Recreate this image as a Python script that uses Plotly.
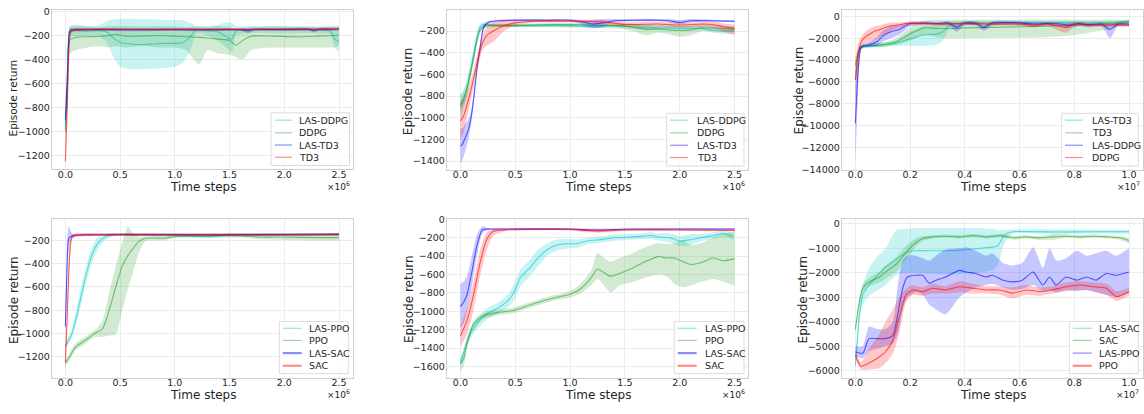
import plotly.graph_objects as go

W, H = 1144, 414

# ---------------- colours ----------------
C_CYAN, C_GREEN, C_BLUE, C_RED = (0, 200, 200), (44, 160, 44), (0, 0, 255), (255, 0, 0)

# ---------------- Panel 1 (x in 1e6) ----------------
p1_lasddpg_x = [0, 0.02, 0.04, 0.1, 0.2, 0.3, 0.38, 0.45, 0.5, 0.6, 0.7, 0.8, 0.9, 1.0, 1.08, 1.15, 1.2, 1.3, 1.4, 1.47, 1.52, 1.56, 1.7, 1.9, 2.1, 2.3, 2.42, 2.46, 2.5]
p1_lasddpg_y = [-950, -600, -165, -160, -165, -160, -170, -230, -255, -270, -275, -270, -265, -265, -255, -200, -150, -160, -170, -210, -230, -160, -150, -150, -150, -150, -160, -230, -250]
p1_lasddpg_lo = [-1050, -750, -210, -210, -200, -200, -260, -400, -460, -480, -480, -475, -470, -460, -420, -300, -180, -200, -250, -300, -340, -200, -180, -180, -180, -180, -190, -300, -340]
p1_lasddpg_hi = [-850, -450, -120, -110, -120, -115, -80, -65, -60, -60, -65, -65, -70, -70, -75, -100, -120, -120, -110, -90, -95, -120, -120, -125, -125, -125, -130, -150, -160]

p1_ddpg_x = [0, 0.02, 0.04, 0.1, 0.2, 0.3, 0.4, 0.46, 0.55, 0.7, 0.85, 1.0, 1.1, 1.22, 1.3, 1.4, 1.5, 1.56, 1.62, 1.7, 1.9, 2.1, 2.3, 2.45, 2.5]
p1_ddpg_y = [-1000, -600, -235, -215, -210, -208, -200, -190, -205, -205, -200, -205, -210, -215, -220, -230, -240, -280, -240, -205, -205, -210, -205, -200, -195]
p1_ddpg_lo = [-1050, -800, -350, -320, -300, -290, -300, -290, -300, -290, -300, -300, -320, -440, -320, -350, -360, -380, -400, -320, -300, -300, -300, -300, -290]
p1_ddpg_hi = [-950, -400, -130, -120, -125, -130, -120, -120, -120, -125, -120, -125, -130, -125, -130, -120, -130, -150, -140, -130, -120, -125, -130, -120, -120]

p1_lastd3_x = [0, 0.02, 0.04, 0.06, 0.1, 0.3, 0.6, 1.0, 1.3, 1.6, 1.67, 1.72, 2.0, 2.22, 2.27, 2.32, 2.5]
p1_lastd3_y = [-900, -500, -165, -152, -150, -150, -152, -150, -152, -150, -160, -150, -150, -148, -158, -148, -145]
p1_lastd3_lo = [-1000, -650, -190, -165, -162, -162, -164, -162, -164, -162, -178, -162, -162, -160, -172, -160, -157]
p1_lastd3_hi = [-800, -350, -140, -140, -138, -138, -140, -138, -140, -138, -142, -138, -138, -136, -144, -136, -133]

p1_td3_x = [0, 0.02, 0.05, 0.08, 0.2, 0.5, 1.0, 1.5, 2.0, 2.5]
p1_td3_y = [-1250, -700, -165, -155, -150, -148, -150, -150, -148, -145]
p1_td3_lo = [-1300, -800, -185, -168, -162, -160, -162, -162, -160, -157]
p1_td3_hi = [-1180, -600, -145, -142, -138, -136, -138, -138, -136, -133]

# ---------------- Panel 2 (x in 1e6) ----------------
p2_lasddpg_x = [0, 0.03, 0.06, 0.09, 0.12, 0.15, 0.18, 0.21, 0.25, 0.3, 0.5, 0.8, 1.0, 1.2, 1.4, 1.6, 1.8, 2.0, 2.2, 2.3, 2.4, 2.5]
p2_lasddpg_y = [-900, -830, -720, -580, -420, -260, -160, -140, -140, -145, -150, -150, -150, -155, -150, -165, -170, -175, -175, -195, -200, -200]
p2_lasddpg_lo = [-1000, -920, -800, -650, -480, -310, -190, -160, -155, -160, -165, -165, -165, -170, -165, -185, -190, -195, -195, -215, -225, -225]
p2_lasddpg_hi = [-780, -740, -640, -510, -360, -210, -130, -120, -125, -130, -135, -135, -135, -140, -135, -145, -150, -155, -155, -170, -175, -175]

p2_ddpg_x = [0, 0.03, 0.06, 0.09, 0.12, 0.15, 0.18, 0.21, 0.25, 0.3, 0.5, 0.8, 1.0, 1.2, 1.4, 1.55, 1.7, 1.8, 1.9, 2.0, 2.1, 2.2, 2.35, 2.5]
p2_ddpg_y = [-880, -820, -730, -600, -450, -290, -190, -160, -150, -150, -150, -140, -140, -145, -150, -160, -185, -180, -190, -195, -190, -170, -175, -180]
p2_ddpg_lo = [-950, -880, -790, -660, -500, -330, -215, -180, -165, -165, -165, -160, -165, -170, -175, -195, -240, -215, -230, -255, -240, -200, -200, -205]
p2_ddpg_hi = [-800, -760, -670, -540, -400, -250, -165, -140, -135, -135, -135, -125, -125, -125, -130, -130, -145, -150, -150, -150, -150, -140, -150, -155]

p2_lastd3_x = [0, 0.015, 0.05, 0.076, 0.1, 0.12, 0.15, 0.18, 0.21, 0.24, 0.27, 0.35, 0.5, 0.8, 1.0, 1.1, 1.2, 1.3, 1.4, 1.6, 1.8, 1.9, 2.0, 2.1, 2.3, 2.5]
p2_lastd3_y = [-1260, -1250, -1170, -1100, -980, -830, -560, -350, -170, -130, -115, -105, -100, -100, -100, -115, -135, -125, -105, -100, -100, -105, -120, -105, -105, -110]
p2_lastd3_lo = [-1420, -1400, -1290, -1190, -1040, -880, -600, -380, -195, -145, -125, -115, -110, -110, -110, -135, -175, -165, -120, -110, -110, -120, -140, -120, -115, -120]
p2_lastd3_hi = [-1100, -1100, -1050, -1010, -920, -780, -520, -320, -145, -115, -105, -95, -90, -90, -90, -95, -95, -90, -90, -90, -90, -90, -100, -90, -95, -100]

p2_td3_x = [0, 0.03, 0.06, 0.09, 0.12, 0.15, 0.18, 0.21, 0.25, 0.3, 0.4, 0.5, 0.7, 1.0, 1.3, 1.5, 1.8, 2.0, 2.2, 2.3, 2.4, 2.5]
p2_td3_y = [-1030, -980, -880, -770, -640, -500, -380, -290, -230, -200, -150, -125, -110, -110, -115, -140, -135, -145, -135, -140, -160, -175]
p2_td3_lo = [-1200, -1130, -1000, -860, -720, -570, -450, -360, -330, -300, -200, -150, -120, -120, -130, -160, -155, -165, -160, -170, -210, -240]
p2_td3_hi = [-850, -830, -760, -680, -560, -430, -310, -220, -150, -120, -100, -100, -100, -100, -100, -120, -115, -125, -115, -115, -130, -140]

# ---------------- Panel 3 (x in 1e7) ----------------
p3_lastd3_x = [0, 0.01, 0.02, 0.05, 0.1, 0.15, 0.2, 0.25, 0.3, 0.32, 0.35, 0.4, 0.5, 0.6, 0.7, 0.8, 0.9, 1.0]
p3_lastd3_y = [-5800, -3500, -2800, -2700, -2600, -2450, -2050, -1700, -1600, -1400, -700, -600, -600, -550, -550, -550, -550, -500]
p3_lastd3_lo = [-6200, -3900, -3000, -2850, -2800, -2700, -2700, -2700, -2600, -2200, -1000, -800, -800, -700, -700, -700, -700, -650]
p3_lastd3_hi = [-5400, -3100, -2600, -2550, -2400, -2200, -1400, -900, -800, -600, -450, -400, -400, -400, -400, -400, -400, -350]

p3_td3_x = [0, 0.01, 0.02, 0.05, 0.1, 0.15, 0.2, 0.25, 0.3, 0.35, 0.4, 0.5, 0.6, 0.7, 0.8, 0.9, 0.95, 1.0]
p3_td3_y = [-4500, -3300, -2800, -2700, -2600, -2300, -1600, -1050, -1100, -1100, -1050, -1000, -950, -900, -800, -700, -600, -450]
p3_td3_lo = [-4800, -3600, -3000, -2850, -2800, -2600, -2200, -1700, -1900, -2000, -2000, -1950, -1950, -1900, -1700, -1300, -1000, -600]
p3_td3_hi = [-4200, -3000, -2600, -2550, -2400, -2000, -1000, -400, -300, -300, -300, -300, -300, -300, -300, -300, -300, -300]

p3_lasddpg_x = [0, 0.01, 0.02, 0.03, 0.05, 0.08, 0.1, 0.13, 0.16, 0.2, 0.25, 0.3, 0.34, 0.37, 0.4, 0.44, 0.47, 0.5, 0.55, 0.6, 0.65, 0.7, 0.75, 0.78, 0.82, 0.85, 0.9, 0.93, 0.96, 1.0]
p3_lasddpg_y = [-9800, -5000, -2900, -2700, -2600, -2300, -1800, -1400, -1200, -650, -600, -650, -600, -1000, -600, -650, -1000, -600, -550, -600, -700, -650, -700, -800, -650, -800, -700, -1200, -700, -700]
p3_lasddpg_lo = [-13500, -7000, -3100, -2850, -2800, -2700, -2300, -2000, -1700, -900, -750, -800, -800, -1400, -800, -850, -1300, -800, -750, -800, -900, -850, -900, -1100, -850, -1000, -900, -2000, -900, -900]
p3_lasddpg_hi = [-6500, -3500, -2700, -2550, -2400, -1900, -1300, -900, -800, -450, -450, -500, -450, -700, -450, -450, -800, -450, -400, -450, -550, -500, -550, -600, -500, -600, -550, -700, -550, -550]

p3_ddpg_x = [0, 0.01, 0.02, 0.035, 0.05, 0.07, 0.09, 0.12, 0.15, 0.19, 0.25, 0.3, 0.4, 0.5, 0.6, 0.66, 0.7, 0.77, 0.8, 0.85, 0.9, 0.95, 1.0]
p3_ddpg_y = [-5800, -3500, -2400, -1900, -1650, -1350, -1200, -900, -800, -650, -650, -700, -650, -700, -700, -800, -700, -1000, -700, -750, -800, -750, -800]
p3_ddpg_lo = [-8000, -4500, -3000, -2500, -2500, -2200, -1900, -1500, -1100, -850, -800, -850, -800, -850, -850, -1000, -850, -1500, -900, -900, -950, -900, -950]
p3_ddpg_hi = [-3800, -2500, -1900, -1400, -1150, -900, -800, -600, -550, -500, -500, -550, -500, -550, -550, -650, -550, -700, -550, -600, -650, -600, -650]

# ---------------- Panel 4 (x in 1e6) ----------------
p4_lasppo_x = [0, 0.06, 0.12, 0.18, 0.24, 0.3, 0.37, 0.45, 0.7, 1.0, 1.3, 1.5, 2.0, 2.5]
p4_lasppo_y = [-1110, -1000, -780, -530, -330, -220, -165, -150, -150, -150, -165, -150, -150, -150]
p4_lasppo_lo = [-1140, -1040, -850, -600, -400, -270, -190, -160, -160, -160, -180, -160, -160, -160]
p4_lasppo_hi = [-1080, -960, -700, -460, -260, -170, -145, -140, -140, -140, -150, -140, -140, -140]

p4_ppo_x = [0, 0.02, 0.09, 0.18, 0.27, 0.34, 0.4, 0.46, 0.52, 0.57, 0.61, 0.67, 0.73, 0.8, 0.9, 1.0, 1.3, 1.6, 1.8, 2.0, 2.3, 2.5]
p4_ppo_y = [-1250, -1230, -1120, -1060, -1000, -960, -800, -600, -420, -330, -280, -210, -180, -178, -180, -165, -160, -160, -170, -170, -175, -175]
p4_ppo_lo = [-1280, -1260, -1150, -1090, -1030, -1030, -1020, -1010, -800, -620, -500, -310, -205, -200, -200, -180, -175, -175, -190, -195, -200, -200]
p4_ppo_hi = [-1220, -1200, -1090, -1030, -970, -890, -650, -420, -220, -80, -130, -165, -165, -160, -160, -150, -145, -145, -150, -150, -155, -155]

p4_lassac_x = [0, 0.01, 0.02, 0.03, 0.05, 0.07, 0.1, 0.3, 0.6, 1.0, 1.5, 2.0, 2.5]
p4_lassac_y = [-940, -600, -300, -180, -165, -158, -152, -150, -150, -150, -150, -148, -145]
p4_lassac_lo = [-1050, -750, -420, -270, -190, -170, -162, -160, -160, -160, -160, -158, -155]
p4_lassac_hi = [-800, -400, -150, -75, -120, -145, -142, -140, -140, -140, -140, -138, -135]

p4_sac_x = [0, 0.015, 0.03, 0.045, 0.06, 0.1, 0.3, 0.6, 1.0, 1.5, 2.0, 2.5]
p4_sac_y = [-1250, -900, -500, -250, -170, -155, -150, -148, -150, -150, -150, -148]
p4_sac_lo = [-1330, -1000, -600, -320, -190, -170, -162, -160, -162, -162, -162, -160]
p4_sac_hi = [-1150, -800, -400, -180, -150, -140, -138, -136, -138, -138, -138, -136]

# ---------------- Panel 5 (x in 1e6) ----------------
p5_lasppo_x = [0, 0.076, 0.15, 0.24, 0.35, 0.43, 0.49, 0.55, 0.64, 0.7, 0.79, 0.88, 0.97, 1.06, 1.155, 1.28, 1.4, 1.52, 1.64, 1.73, 1.82, 1.91, 2.0, 2.1, 2.19, 2.31, 2.4, 2.49]
p5_lasppo_y = [-1570, -1280, -1140, -1030, -960, -890, -790, -630, -520, -430, -330, -280, -265, -265, -235, -220, -200, -195, -185, -175, -195, -200, -235, -220, -200, -175, -155, -185]
p5_lasppo_lo = [-1610, -1330, -1200, -1090, -1020, -960, -880, -720, -610, -520, -400, -340, -320, -310, -270, -255, -235, -225, -215, -210, -235, -250, -290, -280, -240, -210, -190, -220]
p5_lasppo_hi = [-1530, -1230, -1080, -970, -900, -820, -700, -540, -430, -340, -260, -220, -210, -220, -200, -185, -165, -160, -155, -140, -155, -150, -180, -160, -160, -140, -125, -150]

p5_ppo_x = [0, 0.03, 0.06, 0.12, 0.21, 0.33, 0.49, 0.64, 0.79, 0.91, 1.0, 1.09, 1.19, 1.25, 1.31, 1.37, 1.45, 1.55, 1.65, 1.8, 1.88, 1.95, 2.03, 2.1, 2.2, 2.3, 2.4, 2.5]
p5_ppo_y = [-1570, -1520, -1350, -1140, -1050, -1015, -990, -930, -875, -840, -815, -760, -640, -540, -580, -620, -590, -540, -480, -405, -420, -420, -460, -490, -470, -420, -450, -430]
p5_ppo_lo = [-1650, -1600, -1400, -1180, -1080, -1045, -1020, -960, -905, -870, -850, -810, -720, -650, -720, -800, -720, -690, -650, -600, -620, -700, -740, -720, -680, -650, -680, -720]
p5_ppo_hi = [-1500, -1450, -1300, -1100, -1020, -985, -960, -900, -845, -810, -780, -710, -560, -370, -420, -460, -420, -380, -320, -260, -270, -260, -230, -280, -260, -200, -160, -130]

p5_lassac_x = [0, 0.03, 0.06, 0.1, 0.15, 0.2, 0.25, 0.4, 0.7, 1.0, 1.1, 1.2, 1.3, 1.4, 1.6, 2.0, 2.5]
p5_lassac_y = [-950, -900, -820, -600, -290, -113, -106, -105, -103, -105, -110, -115, -115, -110, -105, -105, -105]
p5_lassac_lo = [-1180, -1130, -1000, -760, -400, -150, -115, -112, -110, -112, -120, -130, -130, -120, -112, -112, -112]
p5_lassac_hi = [-700, -680, -620, -420, -170, -75, -95, -98, -95, -98, -100, -100, -100, -100, -98, -98, -98]

p5_sac_x = [0, 0.06, 0.12, 0.18, 0.24, 0.3, 0.43, 0.7, 1.0, 1.15, 1.25, 1.4, 1.5, 2.0, 2.5]
p5_sac_y = [-1270, -1100, -820, -470, -220, -130, -113, -110, -110, -120, -125, -120, -115, -115, -120]
p5_sac_lo = [-1390, -1250, -980, -620, -330, -180, -125, -120, -120, -140, -145, -135, -125, -125, -130]
p5_sac_hi = [-1160, -970, -670, -330, -140, -105, -102, -100, -100, -105, -110, -105, -105, -105, -110]

# ---------------- Panel 6 (x in 1e7) ----------------
p6_lassac_x = [0, 0.015, 0.027, 0.05, 0.076, 0.11, 0.15, 0.185, 0.21, 0.3, 0.38, 0.45, 0.5, 0.52, 0.545, 0.575, 0.65, 0.75, 0.85, 1.0]
p6_lassac_y = [-5800, -3700, -2900, -2500, -2170, -1770, -1440, -1170, -1100, -1100, -1080, -1000, -950, -900, -450, -320, -320, -330, -320, -320]
p6_lassac_lo = [-5950, -4000, -3300, -2950, -2750, -2500, -2100, -2000, -2000, -2050, -2050, -2000, -1900, -1700, -800, -400, -400, -420, -400, -400]
p6_lassac_hi = [-5600, -3300, -2500, -1800, -1400, -1000, -250, -200, -180, -180, -180, -180, -200, -250, -250, -220, -220, -220, -230, -240]

p6_sac_x = [0, 0.015, 0.027, 0.05, 0.088, 0.11, 0.15, 0.185, 0.22, 0.246, 0.28, 0.33, 0.38, 0.43, 0.48, 0.53, 0.58, 0.62, 0.67, 0.72, 0.77, 0.82, 0.87, 0.92, 0.966, 1.0]
p6_sac_y = [-4300, -3170, -2630, -2370, -2170, -1970, -1640, -1170, -770, -600, -530, -505, -530, -480, -530, -480, -570, -530, -570, -530, -505, -530, -505, -530, -570, -680]
p6_sac_lo = [-4500, -3350, -2800, -2550, -2400, -2250, -1950, -1450, -950, -700, -600, -570, -600, -550, -600, -550, -650, -600, -650, -650, -580, -600, -580, -600, -650, -800]
p6_sac_hi = [-4100, -3000, -2450, -2200, -1950, -1700, -1350, -900, -600, -500, -460, -440, -460, -410, -460, -410, -490, -460, -490, -420, -430, -460, -430, -460, -490, -560]

p6_lasppo_x = [0, 0.027, 0.05, 0.08, 0.11, 0.137, 0.155, 0.173, 0.19, 0.22, 0.246, 0.27, 0.295, 0.33, 0.38, 0.405, 0.44, 0.478, 0.5, 0.54, 0.575, 0.61, 0.65, 0.685, 0.71, 0.734, 0.77, 0.81, 0.845, 0.88, 0.917, 0.954, 1.0]
p6_lasppo_y = [-5230, -5290, -4690, -4690, -4690, -4560, -3700, -2630, -2170, -2100, -2100, -2430, -2300, -2170, -1900, -1970, -2030, -2170, -2100, -2300, -2370, -2300, -1970, -2500, -2170, -2500, -2170, -2300, -2170, -2300, -2030, -2100, -1970]
p6_lasppo_lo = [-5400, -5500, -5200, -5100, -5000, -4900, -4500, -3500, -3000, -2800, -2900, -3300, -3500, -3700, -3000, -2800, -2600, -2500, -2450, -2600, -2700, -2650, -2500, -2750, -2700, -2800, -2700, -2750, -2700, -2800, -2900, -3000, -2800]
p6_lasppo_hi = [-5000, -5000, -4200, -4300, -4300, -4000, -2500, -1500, -1300, -1300, -1400, -1500, -1300, -1050, -1000, -960, -1100, -1300, -1200, -1600, -1700, -1600, -950, -1800, -1000, -1500, -1400, -1100, -1300, -1200, -1100, -1300, -1000]

p6_ppo_x = [0, 0.02, 0.05, 0.088, 0.11, 0.137, 0.16, 0.185, 0.21, 0.246, 0.28, 0.33, 0.38, 0.43, 0.478, 0.527, 0.575, 0.624, 0.673, 0.72, 0.77, 0.82, 0.87, 0.917, 0.954, 1.0]
p6_ppo_y = [-5360, -5820, -5690, -5430, -5230, -4760, -3830, -2900, -2700, -2770, -2630, -2700, -2570, -2630, -2700, -2700, -2830, -2700, -2770, -2700, -2570, -2500, -2570, -2630, -2970, -2770]
p6_ppo_lo = [-5500, -5950, -5950, -5900, -5700, -5300, -4500, -3200, -2900, -2950, -2850, -2850, -2800, -2850, -2850, -2900, -3050, -2900, -2950, -2850, -2750, -2700, -2750, -2900, -3150, -2950]
p6_ppo_hi = [-5200, -5650, -5100, -4500, -4000, -3500, -3000, -2650, -2500, -2600, -2450, -2550, -2350, -2450, -2550, -2550, -2600, -2500, -2600, -2550, -2400, -2350, -2400, -2450, -2750, -2600]

# ---------------- ticks ----------------
x_ticks_short = [0, 0.5, 1.0, 1.5, 2.0, 2.5]
x_ticks_long = [0, 0.2, 0.4, 0.6, 0.8, 1.0]
p1_yticks = [0, -200, -400, -600, -800, -1000, -1200]
p2_yticks = [-200, -400, -600, -800, -1000, -1200, -1400]
p3_yticks = [0, -2000, -4000, -6000, -8000, -10000, -12000, -14000]
p4_yticks = [-200, -400, -600, -800, -1000, -1200]
p5_yticks = [0, -200, -400, -600, -800, -1000, -1200, -1400, -1600]
p6_yticks = [0, -1000, -2000, -3000, -4000, -5000, -6000]

x_title = "Time steps"
y_title = "Episode return"

# series: (label, colour, x, y, lo, hi, legend line width)
panels = [
    dict(series=[("LAS-DDPG", C_CYAN, p1_lasddpg_x, p1_lasddpg_y, p1_lasddpg_lo, p1_lasddpg_hi, 1.2),
                 ("DDPG", C_GREEN, p1_ddpg_x, p1_ddpg_y, p1_ddpg_lo, p1_ddpg_hi, 1.2),
                 ("LAS-TD3", C_BLUE, p1_lastd3_x, p1_lastd3_y, p1_lastd3_lo, p1_lastd3_hi, 1.2),
                 ("TD3", C_RED, p1_td3_x, p1_td3_y, p1_td3_lo, p1_td3_hi, 1.2)],
         xdom=(51.7, 352.7), ydom=(5, 168.3), xr=(-0.125, 2.625), yr=(-1314, 14),
         xt=x_ticks_short, yt=p1_yticks, exp="6",
         ytitle=(13.3, 95.5, 10.5), xtitle=(203, 186.5), offs=(352, 185),
         leg=(271.0, 110.5, 349.5, 164.5), legline=(275, 292), legtext=297, legys=(118, 131, 143.5, 156)),
    dict(series=[("LAS-DDPG", C_CYAN, p2_lasddpg_x, p2_lasddpg_y, p2_lasddpg_lo, p2_lasddpg_hi, 1.2),
                 ("DDPG", C_GREEN, p2_ddpg_x, p2_ddpg_y, p2_ddpg_lo, p2_ddpg_hi, 1.2),
                 ("LAS-TD3", C_BLUE, p2_lastd3_x, p2_lastd3_y, p2_lastd3_lo, p2_lastd3_hi, 1.2),
                 ("TD3", C_RED, p2_td3_x, p2_td3_y, p2_td3_lo, p2_td3_hi, 1.2)],
         xdom=(446.7, 748.3), ydom=(5, 169), xr=(-0.125, 2.625), yr=(-1481, -5),
         xt=x_ticks_short, yt=p2_yticks, exp="6",
         ytitle=(408.3, 88, 12), xtitle=(598, 186.5), offs=(747, 185),
         leg=(666.7, 111, 744, 165), legline=(670, 688), legtext=695, legys=(118, 131, 143.7, 156.3)),
    dict(series=[("LAS-TD3", C_CYAN, p3_lastd3_x, p3_lastd3_y, p3_lastd3_lo, p3_lastd3_hi, 1.2),
                 ("TD3", C_GREEN, p3_td3_x, p3_td3_y, p3_td3_lo, p3_td3_hi, 1.2),
                 ("LAS-DDPG", C_BLUE, p3_lasddpg_x, p3_lasddpg_y, p3_lasddpg_lo, p3_lasddpg_hi, 1.2),
                 ("DDPG", C_RED, p3_ddpg_x, p3_ddpg_y, p3_ddpg_lo, p3_ddpg_hi, 1.2)],
         xdom=(841.7, 1142.7), ydom=(5, 169), xr=(-0.05, 1.05), yr=(-14063, 600),
         xt=x_ticks_long, yt=p3_yticks, exp="7",
         ytitle=(799, 87.5, 12), xtitle=(993, 186.5), offs=(1142, 185),
         leg=(1061.7, 111, 1138.3, 165), legline=(1065, 1083), legtext=1090, legys=(118, 131, 143.7, 156.3)),
    dict(series=[("LAS-PPO", C_CYAN, p4_lasppo_x, p4_lasppo_y, p4_lasppo_lo, p4_lasppo_hi, 1.2),
                 ("PPO", C_GREEN, p4_ppo_x, p4_ppo_y, p4_ppo_lo, p4_ppo_hi, 1.2),
                 ("LAS-SAC", C_BLUE, p4_lassac_x, p4_lassac_y, p4_lassac_lo, p4_lassac_hi, 2.2),
                 ("SAC", C_RED, p4_sac_x, p4_sac_y, p4_sac_lo, p4_sac_hi, 2.2)],
         xdom=(51.7, 352.7), ydom=(219.7, 382), xr=(-0.125, 2.625), yr=(-1382, -18),
         xt=x_ticks_short, yt=p4_yticks, exp="6",
         ytitle=(13.3, 302, 12), xtitle=(203, 400), offs=(352, 398.5),
         leg=(279.3, 324.3, 348.3, 377.7), legline=(282.7, 301.7), legtext=307.3, legys=(331.3, 343.7, 356.7, 369.7)),
    dict(series=[("LAS-PPO", C_CYAN, p5_lasppo_x, p5_lasppo_y, p5_lasppo_lo, p5_lasppo_hi, 1.2),
                 ("PPO", C_GREEN, p5_ppo_x, p5_ppo_y, p5_ppo_lo, p5_ppo_hi, 1.2),
                 ("LAS-SAC", C_BLUE, p5_lassac_x, p5_lassac_y, p5_lassac_lo, p5_lassac_hi, 2.2),
                 ("SAC", C_RED, p5_sac_x, p5_sac_y, p5_sac_lo, p5_sac_hi, 2.2)],
         xdom=(446.7, 748.3), ydom=(219.3, 382), xr=(-0.125, 2.625), yr=(-1724, 4),
         xt=x_ticks_short, yt=p5_yticks, exp="6",
         ytitle=(408.3, 301, 12), xtitle=(598, 400), offs=(747, 398.5),
         leg=(674.3, 324.3, 744, 377.7), legline=(677.7, 696.7), legtext=702.7, legys=(331.3, 343.7, 356.7, 369.7)),
    dict(series=[("LAS-SAC", C_CYAN, p6_lassac_x, p6_lassac_y, p6_lassac_lo, p6_lassac_hi, 1.2),
                 ("SAC", C_GREEN, p6_sac_x, p6_sac_y, p6_sac_lo, p6_sac_hi, 1.2),
                 ("LAS-PPO", C_BLUE, p6_lasppo_x, p6_lasppo_y, p6_lasppo_lo, p6_lasppo_hi, 1.2),
                 ("PPO", C_RED, p6_ppo_x, p6_ppo_y, p6_ppo_lo, p6_ppo_hi, 2.2)],
         xdom=(841.7, 1142.7), ydom=(219.7, 382), xr=(-0.05, 1.05), yr=(-6291, 184),
         xt=x_ticks_long, yt=p6_yticks, exp="7",
         ytitle=(803, 301.7, 12), xtitle=(993, 400), offs=(1141, 398.5),
         leg=(1069.3, 324.3, 1138.3, 377.7), legline=(1072.7, 1091.7), legtext=1097.3, legys=(331.3, 343.7, 356.7, 369.7)),
]


def rgba(c, a):
    return "rgba(%d,%d,%d,%.3f)" % (c[0], c[1], c[2], a)


def px(x):
    return x / W


def py(y):
    return 1 - y / H


FONT = "DejaVu Sans, Verdana, sans-serif"
fig = go.Figure()
layout = dict(width=W, height=H, margin=dict(l=0, r=0, t=0, b=0),
              paper_bgcolor="white", plot_bgcolor="white", showlegend=False,
              font=dict(family=FONT, color="#262626"))
shapes, annotations = [], []


def minus(v):
    return ("\u2212%d" % -v) if v < 0 else "%d" % v


for i, p in enumerate(panels, start=1):
    xa = "x" if i == 1 else "x%d" % i
    ya = "y" if i == 1 else "y%d" % i
    for (label, col, xs, ys, lo, hi, lw) in p["series"]:
        fig.add_trace(go.Scatter(x=xs, y=hi, xaxis=xa, yaxis=ya, mode="lines", name=label + " upper",
                                 line=dict(width=0, shape="spline", smoothing=0.6),
                                 hoverinfo="skip"))
        fig.add_trace(go.Scatter(x=xs, y=lo, xaxis=xa, yaxis=ya, mode="lines", name=label + " lower",
                                 line=dict(width=0, shape="spline", smoothing=0.6),
                                 fill="tonexty", fillcolor=rgba(col, 0.22), hoverinfo="skip"))
        fig.add_trace(go.Scatter(x=xs, y=ys, xaxis=xa, yaxis=ya, mode="lines", name=label,
                                 line=dict(color=rgba(col, 0.6), width=1.1, shape="spline", smoothing=0.6)))
    axis_common = dict(showgrid=True, gridcolor="#ececec", gridwidth=1, zeroline=False,
                       showline=True, linecolor="#cfcfcf", linewidth=1, mirror=True,
                       ticks="", tickfont=dict(family=FONT, size=9.5, color="#262626"))
    layout["xaxis" if i == 1 else "xaxis%d" % i] = dict(
        axis_common, domain=[px(p["xdom"][0]), px(p["xdom"][1])], range=list(p["xr"]),
        anchor=ya, tickvals=p["xt"], ticktext=["%.1f" % t for t in p["xt"]], ticklabelstandoff=-4)
    layout["yaxis" if i == 1 else "yaxis%d" % i] = dict(
        axis_common, domain=[py(p["ydom"][1]), py(p["ydom"][0])], range=list(p["yr"]),
        anchor=xa, tickvals=p["yt"], ticktext=[minus(t) for t in p["yt"]], ticklabelstandoff=-1)

    tx, ty, ts = p["ytitle"]
    annotations.append(dict(text=y_title, x=px(tx), y=py(ty), xref="paper", yref="paper",
                            textangle=-90, showarrow=False, xanchor="center", yanchor="middle",
                            font=dict(family=FONT, size=ts, color="#262626")))
    annotations.append(dict(text=x_title, x=px(p["xtitle"][0]), y=py(p["xtitle"][1]), xref="paper", yref="paper",
                            showarrow=False, xanchor="center", yanchor="middle",
                            font=dict(family=FONT, size=12, color="#262626")))
    annotations.append(dict(text="\u00d710<sup>%s</sup>" % p["exp"], x=px(p["offs"][0]), y=py(p["offs"][1]),
                            xref="paper", yref="paper", showarrow=False, xanchor="right", yanchor="middle",
                            font=dict(family=FONT, size=9, color="#262626")))
    # legend
    x0, y0, x1, y1 = p["leg"]
    shapes.append(dict(type="rect", xref="paper", yref="paper", x0=px(x0), x1=px(x1), y0=py(y1), y1=py(y0),
                       line=dict(color="#dcdcdc", width=1), fillcolor="rgba(255,255,255,0.85)", layer="above"))
    for (label, col, xs, ys, lo, hi, lw), ly in zip(p["series"], p["legys"]):
        shapes.append(dict(type="line", xref="paper", yref="paper", x0=px(p["legline"][0]), x1=px(p["legline"][1]),
                           y0=py(ly), y1=py(ly), line=dict(color=rgba(col, 0.45), width=lw), layer="above"))
        annotations.append(dict(text=label, x=px(p["legtext"]), y=py(ly), xref="paper", yref="paper",
                                showarrow=False, xanchor="left", yanchor="middle",
                                font=dict(family=FONT, size=9.5, color="#262626")))

layout["shapes"] = shapes
layout["annotations"] = annotations
fig.update_layout(**layout)
fig.write_html("out.html", config={"displayModeBar": False},
               post_script="document.body.style.margin='0px';document.body.style.overflow='hidden';")
